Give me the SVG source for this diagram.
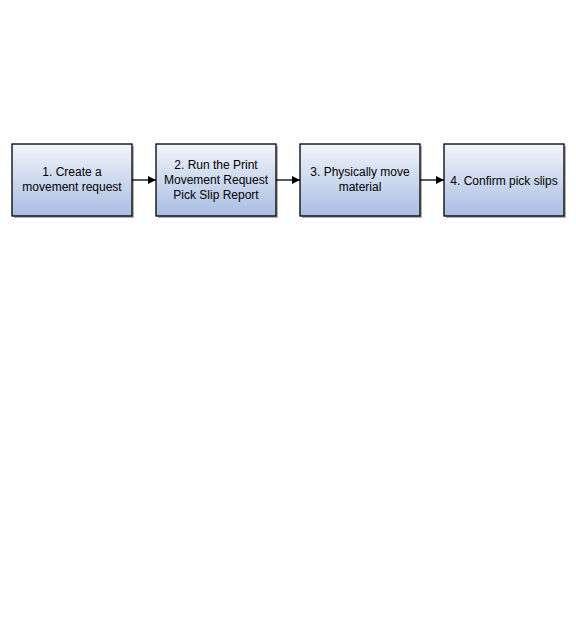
<svg xmlns="http://www.w3.org/2000/svg" width="576" height="624" viewBox="0 0 576 624">
<defs>
<linearGradient id="g" x1="0" y1="0" x2="0" y2="1">
<stop offset="0" stop-color="#f2f5fb"/>
<stop offset="1" stop-color="#a9bde3"/>
</linearGradient>
<marker id="ah" markerWidth="8" markerHeight="8" refX="8" refY="4" orient="auto" markerUnits="userSpaceOnUse">
<path d="M0,0 L8,4 L0,8 Z" fill="#000"/>
</marker>
</defs>
<style>
.sh{fill:#b4b4b4}
.bx{fill:url(#g);stroke:#000;stroke-width:1.3}
text{font-family:"Liberation Sans",Arial,sans-serif;font-size:12px;fill:#000;text-anchor:middle}
.c{stroke:#000;stroke-width:1.3;fill:none}
</style>
<rect width="576" height="624" fill="#fff"/>
<g id="n1">
<rect class="sh" x="14" y="146" width="120" height="72"/>
<rect class="bx" x="12" y="144" width="120" height="72"/>
<text x="72" y="176">1. Create a</text>
<text x="72" y="191">movement request</text>
</g>
<g id="n2">
<rect class="sh" x="158" y="146" width="120" height="72"/>
<rect class="bx" x="156" y="144" width="120" height="72"/>
<text x="216" y="168.5">2. Run the Print</text>
<text x="216" y="183.5">Movement Request</text>
<text x="216" y="198.5">Pick Slip Report</text>
</g>
<g id="n3">
<rect class="sh" x="302" y="146" width="120" height="72"/>
<rect class="bx" x="300" y="144" width="120" height="72"/>
<text x="360" y="176">3. Physically move</text>
<text x="360" y="191">material</text>
</g>
<g id="n4">
<rect class="sh" x="446" y="146" width="120" height="72"/>
<rect class="bx" x="444" y="144" width="120" height="72"/>
<text x="504" y="184.5">4. Confirm pick slips</text>
</g>
<g id="connectors">
<line class="c" x1="132" y1="180" x2="156" y2="180" marker-end="url(#ah)"/>
<line class="c" x1="276" y1="180" x2="300" y2="180" marker-end="url(#ah)"/>
<line class="c" x1="420" y1="180" x2="444" y2="180" marker-end="url(#ah)"/>
</g>
</svg>
